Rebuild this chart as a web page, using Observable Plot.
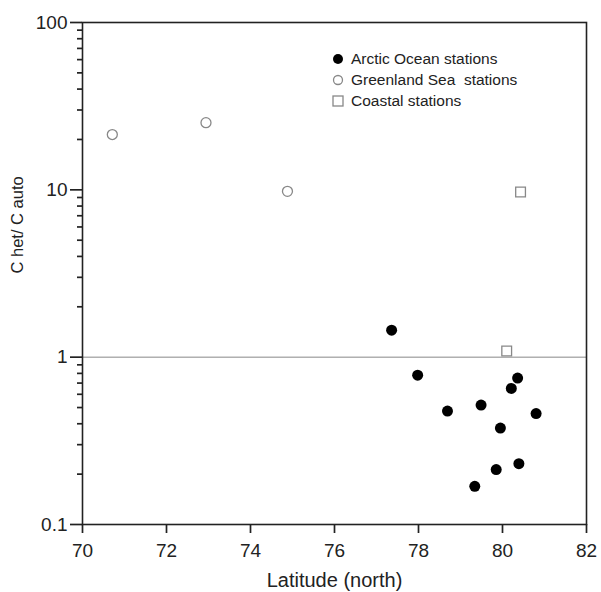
<!DOCTYPE html>
<html>
<head>
<meta charset="utf-8">
<script src="https://cdn.jsdelivr.net/npm/d3@7"></script>
<script src="https://cdn.jsdelivr.net/npm/@observablehq/plot@0.6"></script>
<style>
  html, body { margin: 0; padding: 0; background: #fff; }
  #wrap { position: relative; width: 601px; height: 592px; font-family: "Liberation Sans", Arial, Helvetica, sans-serif; }
  #legend { position: absolute; left: 331px; top: 48px; font-size: 15.5px; color: #222; line-height: 21px; }
  #legend div { display: flex; align-items: center; white-space: pre; }
  #legend svg { margin-right: 6px; }
</style>
</head>
<body>
<div id="wrap"></div>
<script>
// Arctic Ocean stations
const arcticLat = [77.36, 77.98, 78.69, 79.49, 80.36, 80.21, 80.80, 79.95, 80.39, 79.85, 79.34];
const arcticVal = [1.45, 0.78, 0.476, 0.517, 0.75, 0.65, 0.46, 0.377, 0.231, 0.213, 0.169];
// Greenland Sea stations
const greenLat = [70.71, 72.94, 74.88];
const greenVal = [21.4, 25.2, 9.8];
// Coastal stations
const coastLat = [80.43, 80.10];
const coastVal = [9.7, 1.09];

const xTicks = [70, 72, 74, 76, 78, 80, 82];
const yTicks = [0.1, 1, 10, 100];
const yMinor = [];
for (const d of [0.1, 1, 10]) for (let k = 2; k <= 9; k++) yMinor.push(+(d * k).toPrecision(3));

const xLabel = "Latitude (north)";
const yLabel = "C het/ C auto";
const legendItems = ["Arctic Ocean stations", "Greenland Sea  stations", "Coastal stations"];

const arctic = arcticLat.map((x, i) => ({x, y: arcticVal[i]}));
const green = greenLat.map((x, i) => ({x, y: greenVal[i]}));
const coast = coastLat.map((x, i) => ({x, y: coastVal[i]}));

const W = 601, H = 592, ML = 82, MR = 15, MT = 22, MB = 68;
const PW = W - ML - MR, PH = H - MT - MB;
const ink = "#222";

const chart = Plot.plot({
  width: W,
  height: H,
  marginLeft: ML,
  marginRight: MR,
  marginTop: MT,
  marginBottom: MB,
  style: {fontFamily: '"Liberation Sans", Arial, Helvetica, sans-serif', color: ink, background: "#fff"},
  x: {domain: [70, 82], axis: null},
  y: {type: "log", domain: [0.1, 100], axis: null},
  marks: [
    Plot.ruleY([1], {stroke: "#888", strokeWidth: 1}),
    // x ticks and labels
    Plot.tickX(xTicks, {x: d => d, insetTop: PH - 9, dy: 9, stroke: ink, strokeWidth: 1.7}),
    Plot.text(xTicks, {x: d => d, frameAnchor: "bottom", dy: 26, text: d => String(d), fontSize: 19, fill: ink, lineAnchor: "middle"}),
    Plot.text([xLabel], {frameAnchor: "bottom", dy: 56, text: d => d, fontSize: 20, fill: ink, lineAnchor: "middle"}),
    // y ticks and labels
    Plot.tickY(yTicks, {y: d => d, insetRight: PW - 12, dx: -12, stroke: ink, strokeWidth: 1.7}),
    Plot.tickY(yMinor, {y: d => d, insetRight: PW - 5, dx: -5, stroke: ink, strokeWidth: 1.7}),
    Plot.text(yTicks, {y: d => d, frameAnchor: "left", dx: -15, textAnchor: "end", text: d => String(d), fontSize: 19, fill: ink, lineAnchor: "middle"}),
    Plot.text([yLabel], {frameAnchor: "left", dx: -65, rotate: -90, text: d => d, fontSize: 16.5, fill: ink, lineAnchor: "middle"}),
    Plot.frame({stroke: ink, strokeWidth: 1.6}),
    Plot.dot(green, {x: "x", y: "y", r: 5, stroke: "#888", strokeWidth: 1.3, fill: "none"}),
    Plot.dot(coast, {x: "x", y: "y", symbol: "square", r: 5.5, stroke: "#888", strokeWidth: 1.3, fill: "none"}),
    Plot.dot(arctic, {x: "x", y: "y", r: 5.5, fill: "#000", stroke: "none"})
  ]
});
const wrap = document.getElementById("wrap");
wrap.appendChild(chart);

const legend = document.createElement("div");
legend.id = "legend";
const symbols = [
  '<svg width="14" height="14"><circle cx="7" cy="7" r="5" fill="#000"/></svg>',
  '<svg width="14" height="14"><circle cx="7" cy="7" r="4.5" fill="none" stroke="#888" stroke-width="1.3"/></svg>',
  '<svg width="14" height="14"><rect x="2" y="2" width="10" height="10" fill="none" stroke="#888" stroke-width="1.3"/></svg>'
];
legendItems.forEach((t, i) => {
  const row = document.createElement("div");
  row.innerHTML = symbols[i] + "<span></span>";
  row.querySelector("span").textContent = t;
  legend.appendChild(row);
});
wrap.appendChild(legend);
</script>
</body>
</html>
